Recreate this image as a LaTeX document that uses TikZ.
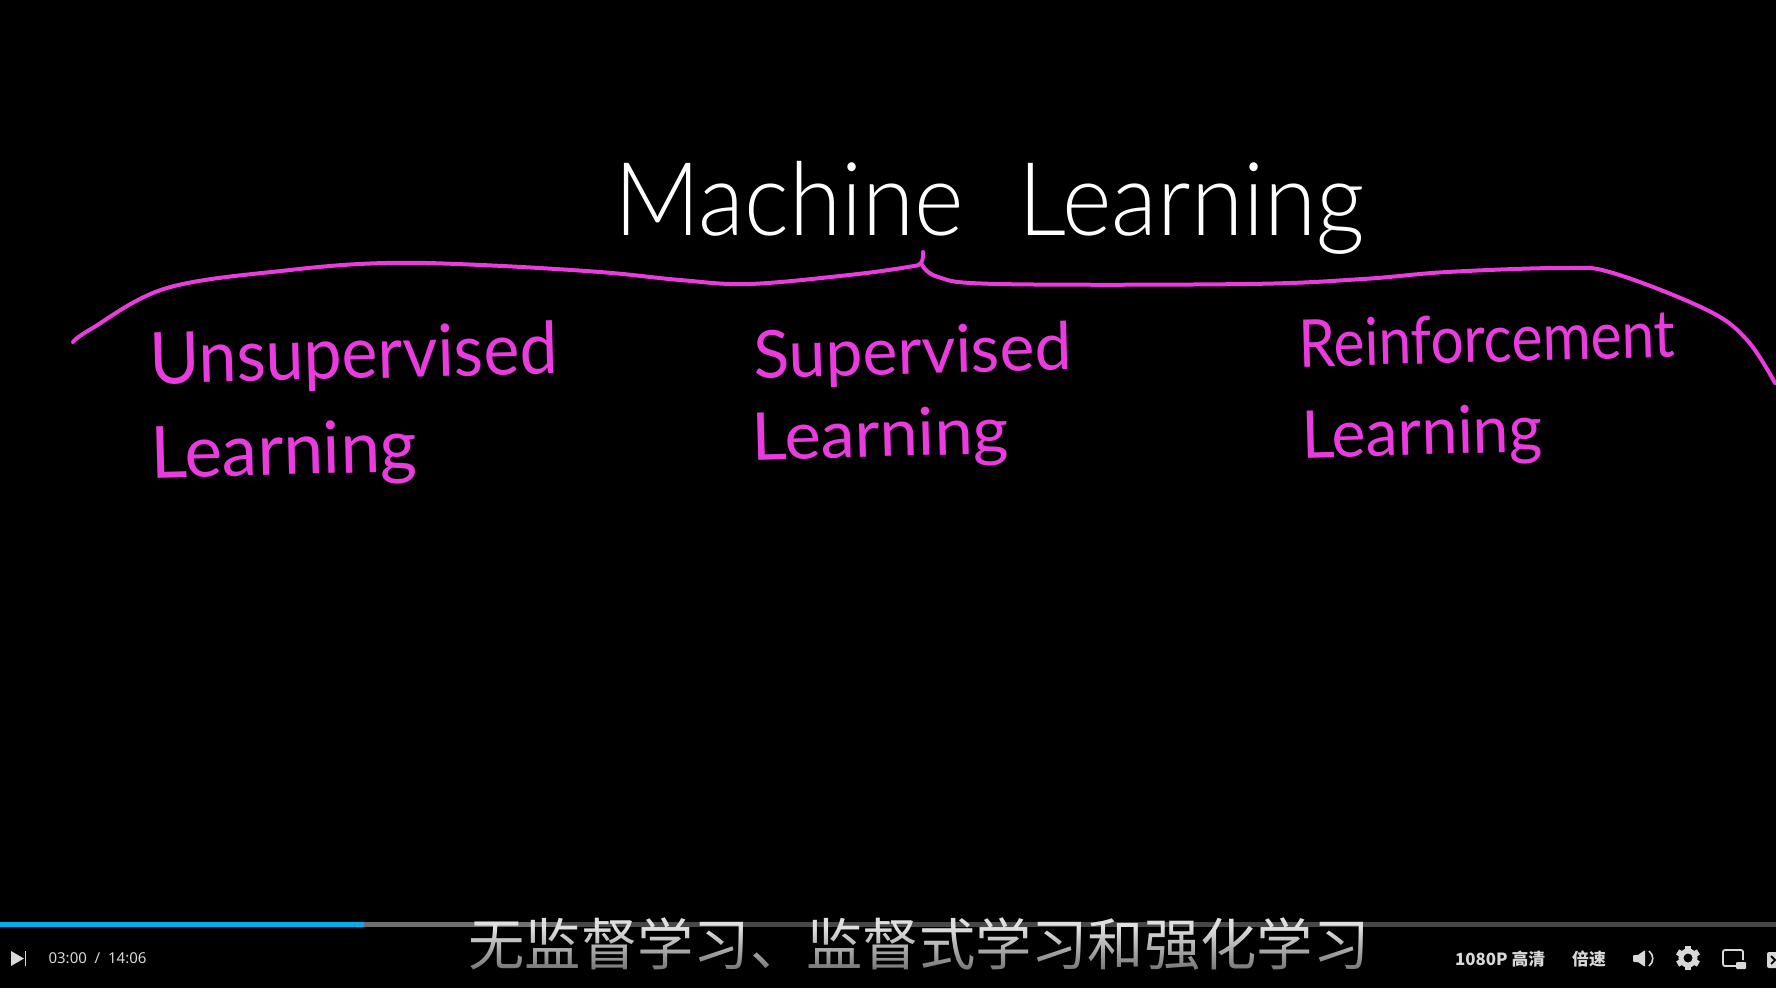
\documentclass[tikz,border=0pt]{standalone}
\usepackage{fontspec}
\usetikzlibrary{fadings}
\newfontfamily\handfont{Lato}[UprightFont=* Light]
\newfontfamily\handpink{Lato}
\newfontfamily\cjkfont{Noto Sans CJK SC}
\newfontfamily\uifont{Noto Sans}
\definecolor{penpink}{HTML}{EA3CDE}
\definecolor{barblue}{HTML}{00AEEC}
\definecolor{uigrey}{HTML}{D8D8D8}
\tikzset{
  hand/.style={inner sep=0pt, anchor=base west, font=\handfont\fontsize{#1}{#1}\selectfont},
  pinktext/.style={inner sep=0pt, anchor=base west, text=penpink, font=\handpink\fontsize{#1}{#1}\selectfont},
  brace/.style={draw=penpink, line width=4pt, line cap=round, line join=round},
  uitext/.style={inner sep=0pt, text=uigrey, font=\cjkfont\bfseries\fontsize{16.8}{17}\selectfont},
  icon/.style={fill=uigrey, draw=none}
}
\begin{document}
\begin{tikzpicture}[x=1pt, y=-1pt]
\useasboundingbox (0,0) rectangle (1776,999);
\fill[white] (0,988) rectangle (1776,999);
\fill[black] (0,0) rectangle (1776,988);
% title
\node[hand=102, text=white, xscale=0.93] (title) at (614,235) {Machine\hspace{31pt} Learning};
% brace
\draw[brace] plot[smooth, tension=0.6] coordinates {(73,342) (91,329) (167,288) (290,270) (385,263) (481,265) (600,272) (680,280) (749,284) (849,275) (908,267) (921,263) (923,252)};
\draw[brace] plot[smooth, tension=0.6] coordinates {(921,263) (938,277) (998,284) (1247,284) (1363,279) (1447,272) (1563,268) (1613,273) (1707,310) (1747,340) (1775,383)};
% branches
\node[pinktext=72, rotate=1.5, xscale=0.945] (unsup) at (150,384) {Unsupervised};
\node[pinktext=72, rotate=1.5, xscale=0.99] (unsupl) at (151,478) {Learning};
\node[pinktext=66, rotate=1.5, xscale=1.0] (sup) at (754,378) {Supervised};
\node[pinktext=66, rotate=1.5, xscale=1.04] (supl) at (752,460) {Learning};
\node[pinktext=66, rotate=1.5, xscale=0.89] (reinf) at (1299,367) {Reinforcement};
\node[pinktext=66, rotate=1.5, xscale=0.975] (reinfl) at (1302,458) {Learning};
% player bar
\fill[black!72!white] (0,922) rectangle (1776,927);
\fill[black!56!white] (364,922) rectangle (560,927);
\fill[barblue] (0,922) rectangle (364,927);
% subtitle
\node[inner sep=0pt, text=white!88!black, font=\cjkfont\fontsize{56.3}{57}\selectfont] (subt) at (919,944) {无监督学习、监督式学习和强化学习};
\fill[black, path fading=north, opacity=0.55] (460,928) rectangle (1376,976);
% controls
\fill[icon] (11,951) -- (24,958.5) -- (11,966) -- cycle;
\fill[icon] (24.5,951) rectangle (26,966);
\node[inner sep=0pt, text=uigrey, font=\uifont\fontsize{15}{15}\selectfont] (time) at (97.5,958.5) {03:00\ \ /\ \ 14:06};
\node[uitext, anchor=west] (quality) at (1455,959) {1080P 高清};
\node[uitext, anchor=west] (speed) at (1572,959) {倍速};
% speaker
\fill[icon, rounded corners=1pt] (1633,955) -- (1638,955) -- (1645,950) -- (1645,967) -- (1638,962) -- (1633,962) -- cycle;
\draw[uigrey, line width=1.6pt] (1649,951) .. controls (1654,955) and (1654,962) .. (1649,966);
% gear
\foreach \a in {30,90,...,330}
  \fill[icon] (1688,958) ++(\a:6) ++(\a+90:3) -- ++(\a:6) -- ++(\a-90:6) -- ++(\a+180:6) -- cycle;
\draw[uigrey, line width=5pt] (1688,958) circle[radius=7];
% picture in picture
\draw[uigrey, line width=1.8pt, rounded corners=2pt] (1736,966) -- (1723,966) -- (1723,950) -- (1743,950) -- (1743,960);
\fill[icon, rounded corners=1pt] (1736,962) rectangle (1746,969);
% next icon
\fill[icon, rounded corners=2pt] (1767,952) rectangle (1780,968);
\draw[black, line width=1.8pt] (1771,956) -- (1775,960) -- (1771,964);
\end{tikzpicture}
\end{document}
